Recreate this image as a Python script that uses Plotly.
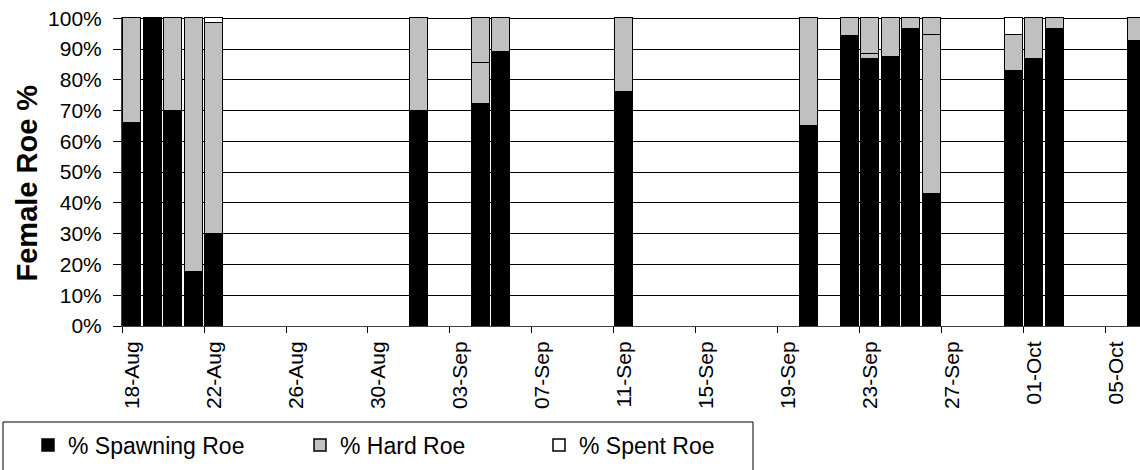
import plotly.graph_objects as go

# Sampling dates (female roe condition, % of females sampled)
dates = [
    "2007-08-18", "2007-08-19", "2007-08-20", "2007-08-21", "2007-08-22",
    "2007-09-01", "2007-09-04", "2007-09-05", "2007-09-11", "2007-09-20",
    "2007-09-22", "2007-09-23", "2007-09-24", "2007-09-25", "2007-09-26",
    "2007-09-30", "2007-10-01", "2007-10-02", "2007-10-06",
]
spawning_roe = [66, 100, 70, 17.4, 30, 70, 72, 89, 76, 65, 94.3, 86.7, 87.3, 96.5, 43, 82.7, 86.7, 96.5, 92.6]
hard_roe = [34, 0, 30, 82.6, 68.5, 30, 13.5, 11, 24, 35, 5.7, 1.8, 12.7, 3.5, 51.6, 11.9, 13.3, 3.5, 7.4]
hard_roe_b = [0, 0, 0, 0, 0, 0, 14.5, 0, 0, 0, 0, 11.5, 0, 0, 5.4, 0, 0, 0, 0]
spent_roe = [0, 0, 0, 0, 1.5, 0, 0, 0, 0, 0, 0, 0, 0, 0, 0, 5.4, 0, 0, 0]

y_tick_values = [0, 10, 20, 30, 40, 50, 60, 70, 80, 90, 100]
y_tick_labels = ["0%", "10%", "20%", "30%", "40%", "50%", "60%", "70%", "80%", "90%", "100%"]

DAY_MS = 86400000
FONT = "Liberation Sans, Arial, sans-serif"

# plot-area geometry in pixels
W, H = 1140, 470
L, T, B = 122, 17, 144
PW = W - L
PH = H - T - B


def px_x(px):
    return (px - L) / PW


def px_y(py):
    return (H - B - py) / PH


bar_common = dict(
    x=dates,
    xperiod=DAY_MS,
    xperiodalignment="middle",
    width=0.9 * DAY_MS,
)
edge = dict(color="#000000", width=1.5)

fig = go.Figure()
fig.add_trace(go.Bar(y=spawning_roe, name="% Spawning Roe", legend="legend",
                     marker=dict(color="#000000", line=edge), **bar_common))
fig.add_trace(go.Bar(y=hard_roe, name="% Hard Roe", legend="legend2", legendgroup="hard",
                     marker=dict(color="#C0C0C0", line=edge), **bar_common))
fig.add_trace(go.Bar(y=hard_roe_b, name="% Hard Roe", legendgroup="hard", showlegend=False,
                     marker=dict(color="#C0C0C0", line=edge), **bar_common))
fig.add_trace(go.Bar(y=spent_roe, name="% Spent Roe", legend="legend3",
                     marker=dict(color="#FFFFFF", line=edge), **bar_common))

legend_common = dict(
    orientation="h", yanchor="middle", xanchor="left",
    y=px_y(445), bgcolor="rgba(0,0,0,0)", borderwidth=0,
    font=dict(family=FONT, size=23, color="#000000"),
)

fig.update_layout(
    width=W, height=H,
    margin=dict(l=L, r=0, t=T, b=B),
    barmode="stack",
    bargap=0,
    paper_bgcolor="#FFFFFF",
    plot_bgcolor="#FFFFFF",
    font=dict(family=FONT, color="#000000"),
    legend=dict(x=px_x(28), **legend_common),
    legend2=dict(x=px_x(300), **legend_common),
    legend3=dict(x=px_x(539), **legend_common),
    xaxis=dict(
        type="date",
        range=["2007-08-18 00:00", "2007-10-06 15:50"],
        tick0="2007-08-18",
        dtick=4 * DAY_MS,
        tickformat="%d-%b",
        tickangle=-90,
        ticklabelshift=10,
        ticks="outside", ticklen=6, tickcolor="#000000",
        showgrid=False,
        showline=True, linecolor="#404040", linewidth=1,
        tickfont=dict(family=FONT, size=21, color="#000000"),
        zeroline=False,
    ),
    yaxis=dict(
        range=[0, 100.4],
        tickvals=y_tick_values,
        ticktext=y_tick_labels,
        ticks="outside", ticklen=8, tickcolor="#000000",
        ticklabelstandoff=7,
        showgrid=True, gridcolor="#000000", gridwidth=1,
        showline=True, linecolor="#404040", linewidth=1,
        zeroline=False,
        tickfont=dict(family=FONT, size=21, color="#000000"),
    ),
    shapes=[
        dict(type="rect", xref="paper", yref="paper",
             x0=px_x(3), x1=px_x(753), y0=px_y(422), y1=px_y(485),
             line=dict(color="#000000", width=1), fillcolor="rgba(0,0,0,0)", layer="above"),
    ],
    annotations=[
        dict(text="<b>Female Roe %</b>", xref="paper", yref="paper",
             x=0, y=px_y(183.5), xshift=-96, xanchor="center", yanchor="middle",
             textangle=-90, showarrow=False,
             font=dict(family=FONT, size=29, color="#000000")),
    ],
)

fig.write_html("out.html")
